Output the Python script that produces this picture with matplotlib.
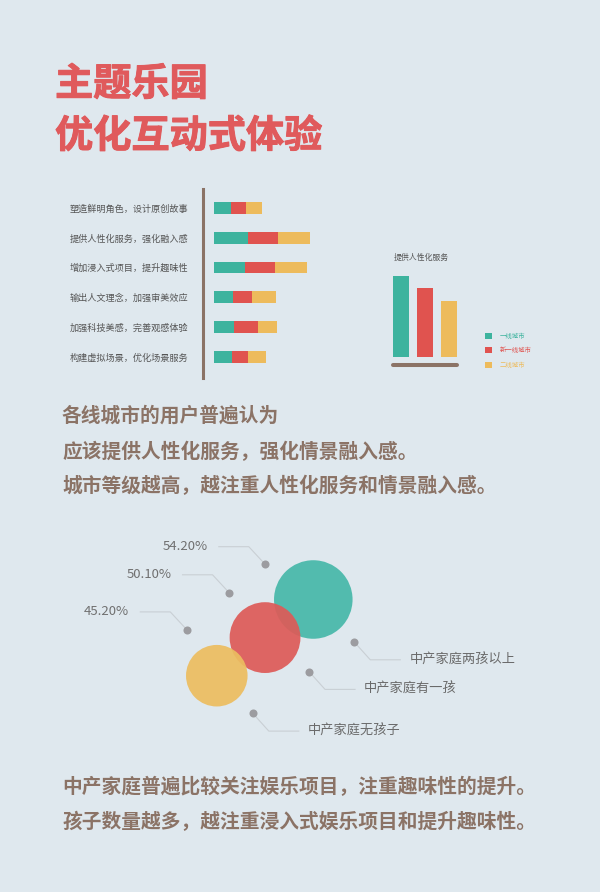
import matplotlib
matplotlib.use("Agg")
import matplotlib.pyplot as plt
import matplotlib.patheffects as pe
import numpy as np

plt.rcParams['font.family'] = ['Noto Sans CJK SC', 'DejaVu Sans']

# ---- data ----
tiers = ['一线城市', '新一线城市', '二线城市']
tier_colors = ['#3DB39E', '#E0534F', '#EDBB5C']

measures = ['塑造鲜明角色，设计原创故事', '提供人性化服务，强化融入感', '增加浸入式项目，提升趣味性',
            '输出人文理念，加强审美效应', '加强科技美感，完善观感体验', '构建虚拟场景，优化场景服务']
tier1_vals = [17, 34, 31, 19, 20, 18]
tier2_vals = [15, 30, 30, 19, 24, 16]
tier3_vals = [16, 32, 32, 24, 19, 18]

service_title = '提供人性化服务'
service_vals = [81, 69, 56]

family_types = ['中产家庭两孩以上', '中产家庭有一孩', '中产家庭无孩子']
family_pct = [54.2, 50.1, 45.2]
family_colors = ['#47B8A9', '#DD5B58', '#ECBD60']

W, H = 600, 892
BG = '#DFE8EE'
BROWN = '#8B7366'

fig = plt.figure(figsize=(W / 100, H / 100), dpi=100, facecolor=BG)


def px_axes(left, top, right, bottom):
    return fig.add_axes([left / W, 1 - bottom / H, (right - left) / W, (bottom - top) / H])


# ---- left stacked bars ----
ax1 = px_axes(203, 189, 324, 378)
ax1.set_facecolor('none')
rows = np.arange(len(measures))
left = np.zeros(len(measures))
for vals, c in zip([tier1_vals, tier2_vals, tier3_vals], tier_colors):
    ax1.barh(rows, vals, left=left, height=0.4, color=c)
    left += np.array(vals)
ax1.set_xlim(-11, 110)
ax1.set_ylim(5.72, -0.64)
for s in ['top', 'right', 'bottom']:
    ax1.spines[s].set_visible(False)
ax1.spines['left'].set_color(BROWN)
ax1.spines['left'].set_linewidth(2.2)
ax1.set_xticks([])
ax1.set_yticks(rows, measures)
ax1.tick_params(axis='y', length=0, pad=10.8, labelsize=6.6, labelcolor='#555555')

# ---- right bars ----
ax2 = px_axes(393.3, 267.3, 457.3, 357.3)
ax2.set_facecolor('none')
handles = []
for i, (v, c, t) in enumerate(zip(service_vals, tier_colors, tiers)):
    handles.append(ax2.bar(i, v, width=0.667, color=c, label=t))
ax2.set_xlim(-0.333, 2.333)
ax2.set_ylim(0, 90)
for s in ['top', 'right', 'left']:
    ax2.spines[s].set_visible(False)
ax2.spines['bottom'].set_position(('outward', 5.8))
ax2.spines['bottom'].set_color(BROWN)
ax2.spines['bottom'].set_linewidth(2.9)
ax2.spines['bottom'].set_capstyle('round')
ax2.set_xticks([])
ax2.set_yticks([])
ax2.set_title(service_title, loc='left', fontsize=5.7, color='#555555', pad=5.5)
leg = fig.legend(handles=handles, loc='upper left', bbox_to_anchor=(485 / W, 1 - 332 / H),
                 frameon=False, borderpad=0, borderaxespad=0, fontsize=4.6,
                 handlelength=1.1, handleheight=1.1, handletextpad=1.2, labelspacing=1.0,
                 labelcolor='linecolor')

# ---- bubbles ----
ax3 = px_axes(80, 530, 560, 750)
ax3.set_facecolor('none')
ax3.axis('off')
ax3.set_xlim(-2.835, 7.113)
ax3.set_ylim(-1.950, 3.824)
pos = [2, 1, 0]
radius_px = 0.944 * (np.array(family_pct) - 12.6)
sizes = (2 * radius_px * 0.72) ** 2
for p, s, c in zip(pos, sizes, family_colors):
    ax3.scatter([p], [p], s=s, color=c, alpha=0.93, edgecolors='none')

# ---- overlay for text and leader lines ----
ov = fig.add_axes([0, 0, 1, 1])
ov.set_xlim(0, W)
ov.set_ylim(H, 0)
ov.axis('off')
ov.patch.set_visible(False)

TITLE_RED = '#E05A5C'
heavy = [pe.withStroke(linewidth=0.7, foreground=TITLE_RED)]
ov.text(55, 84, '主题乐园', fontsize=27.5, fontweight='black', color=TITLE_RED,
        va='center', ha='left', path_effects=heavy)
ov.text(55, 136, '优化互动式体验', fontsize=27.5, fontweight='black', color=TITLE_RED,
        va='center', ha='left', path_effects=heavy)

para1 = ['各线城市的用户普遍认为', '应该提供人性化服务，强化情景融入感。', '城市等级越高，越注重人性化服务和情景融入感。']
for txt, y in zip(para1, [416, 452, 486]):
    ov.text(62, y, txt, fontsize=14.2, fontweight='bold', color=BROWN, va='center', ha='left')

para2 = ['中产家庭普遍比较关注娱乐项目，注重趣味性的提升。', '孩子数量越多，越注重浸入式娱乐项目和提升趣味性。']
for txt, y in zip(para2, [787, 822]):
    ov.text(62, y, txt, fontsize=14.2, fontweight='bold', color=BROWN, va='center', ha='left')

# leader lines
LINE = '#C9CFD4'
DOT = '#9C9CA0'
left_off = [(-48, -35), (-36, -45), (-30, -46)]
right_off = [(41, 42.5), (44, 34), (36, 37.6)]
for p, pct, name, lo, ro in zip(pos, family_pct, family_types, left_off, right_off):
    cx, cy = ax3.transData.transform((p, p))
    cy = H - cy
    # left label (percentage)
    dx, dy = cx + lo[0], cy + lo[1]
    ex, ey = dx - 16.5, dy - 17.8
    ov.plot([ex - 30, ex, dx], [ey, ey, dy], color=LINE, lw=0.8, zorder=1)
    ov.plot(dx, dy, 'o', ms=5.8, color=DOT, mec='none', zorder=2)
    ov.text(ex - 41, ey, f'{pct:.2f}%', fontsize=9.5, color='#707070', ha='right', va='center')
    # right label (family type)
    dx, dy = cx + ro[0], cy + ro[1]
    ex, ey = dx + 16, dy + 17.8
    ov.plot([dx, ex, ex + 30], [dy, ey, ey], color=LINE, lw=0.8, zorder=1)
    ov.plot(dx, dy, 'o', ms=5.8, color=DOT, mec='none', zorder=2)
    ov.text(ex + 39, ey, name, fontsize=9.5, color='#6A6A6A', ha='left', va='center')

fig.savefig('out.png', dpi=100, facecolor=BG)
